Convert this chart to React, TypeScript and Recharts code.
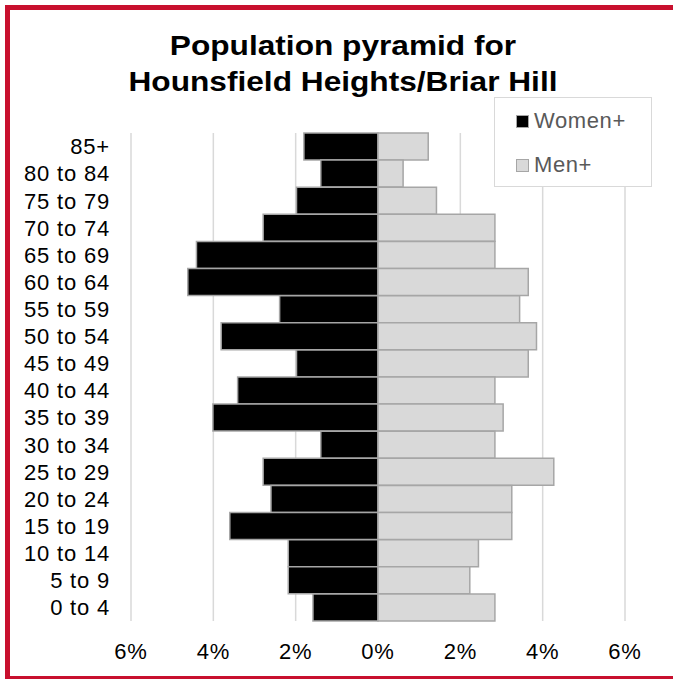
import React from 'react';
import { BarChart, Bar, XAxis, YAxis, CartesianGrid, Legend } from 'recharts';

const ageGroups = ['85+', '80 to 84', '75 to 79', '70 to 74', '65 to 69', '60 to 64', '55 to 59', '50 to 54', '45 to 49', '40 to 44', '35 to 39', '30 to 34', '25 to 29', '20 to 24', '15 to 19', '10 to 14', '5 to 9', '0 to 4'];
const womenPct = [1.8, 1.39, 1.98, 2.79, 4.41, 4.62, 2.39, 3.81, 1.98, 3.41, 4.01, 1.39, 2.79, 2.6, 3.6, 2.18, 2.18, 1.58];
const menPct = [1.22, 0.61, 1.42, 2.84, 2.84, 3.65, 3.44, 3.85, 3.65, 2.84, 3.04, 2.84, 4.27, 3.25, 3.25, 2.44, 2.23, 2.84];
const xTicks = [-6, -4, -2, 0, 2, 4, 6];
const seriesNames = ['Women+', 'Men+'];

const data = ageGroups.map((age, i) => ({ age, women: -womenPct[i], men: menPct[i] }));

const FONT = '"Liberation Sans", Arial, sans-serif';
const BORDER_GREY = '#A6A6A6';

const LegendBox = () => (
  <div
    style={{
      width: 158,
      height: 90,
      boxSizing: 'border-box',
      border: '1px solid #D9D9D9',
      background: '#fff',
      position: 'relative',
      fontFamily: FONT,
    }}
  >
    {[{ name: seriesNames[0], fill: '#000' }, { name: seriesNames[1], fill: '#D9D9D9' }].map((it, i) => (
      <div key={it.name} style={{ position: 'absolute', left: 21, top: 11 + i * 44, height: 24, display: 'flex', alignItems: 'center' }}>
        <span
          style={{
            display: 'inline-block',
            width: 13,
            height: 13,
            boxSizing: 'border-box',
            background: it.fill,
            border: `1.5px solid ${BORDER_GREY}`,
            marginRight: 5,
          }}
        />
        <span style={{ fontSize: 22, color: '#595959', letterSpacing: 0.6, lineHeight: '24px' }}>{it.name}</span>
      </div>
    ))}
  </div>
);

export default function App() {
  return (
    <div style={{ position: 'absolute', left: 0, top: 0, width: 673, height: 679, overflow: 'hidden', background: '#fff', fontFamily: FONT }}>
      <div
        style={{
          position: 'absolute',
          left: 5,
          top: 5,
          width: 720,
          height: 676,
          boxSizing: 'border-box',
          border: '5px solid #C8102E',
        }}
      />
      <div style={{ position: 'absolute', left: 0, top: 0 }}>
        <BarChart
          width={673}
          height={679}
          data={data}
          layout="vertical"
          stackOffset="sign"
          barCategoryGap={0}
          margin={{ top: 133, right: 48, bottom: 18, left: 0 }}
        >
          <CartesianGrid horizontal={false} vertical stroke="#D9D9D9" strokeWidth={1.5} />
          <XAxis
            type="number"
            domain={[-6, 6]}
            ticks={xTicks}
            tickFormatter={(v: number) => `${Math.abs(v)}%`}
            axisLine={false}
            tickLine={false}
            tickMargin={16}
            height={40}
            tick={{ fontSize: 22, fill: '#000', fontFamily: FONT, letterSpacing: 0.8 }}
            interval={0}
          />
          <YAxis
            type="category"
            dataKey="age"
            width={131}
            axisLine={false}
            tickLine={false}
            tickMargin={15}
            interval={0}
            tick={{ fontSize: 22, fill: '#000', fontFamily: FONT, letterSpacing: 0.8 }}
          />
          <Bar dataKey="women" name={seriesNames[0]} stackId="a" fill="#000" stroke={BORDER_GREY} strokeWidth={1.5} isAnimationActive={false} />
          <Bar dataKey="men" name={seriesNames[1]} stackId="a" fill="#D9D9D9" stroke={BORDER_GREY} strokeWidth={1.5} isAnimationActive={false} />
          <Legend
            layout="vertical"
            align="center"
            verticalAlign="middle"
            wrapperStyle={{ top: 97, left: 494, width: 158, height: 90 }}
            content={() => <LegendBox />}
          />
        </BarChart>
      </div>
      <div
        style={{
          position: 'absolute',
          left: 343,
          top: 28,
          transform: 'translateX(-50%) scaleX(1.13)',
          whiteSpace: 'nowrap',
          textAlign: 'center',
          fontSize: 28,
          fontWeight: 'bold',
          lineHeight: '36px',
          color: '#000',
        }}
      >
        <div>Population pyramid for</div>
        <div>Hounsfield Heights/Briar Hill</div>
      </div>
    </div>
  );
}
